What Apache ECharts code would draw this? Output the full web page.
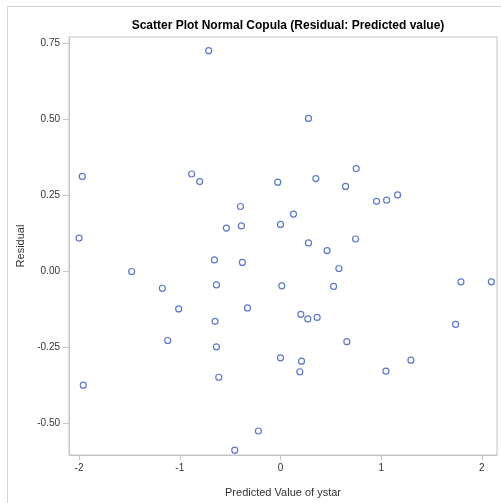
<!DOCTYPE html>
<html><head><meta charset="utf-8">
<script src="https://cdn.jsdelivr.net/npm/echarts@6/dist/echarts.min.js"></script>
<style>html,body{margin:0;padding:0;background:#fff}#c{width:501px;height:503px}</style>
</head><body><div id="c"></div>
<script>
const predicted = [-0.713,-1.968,-0.882,-0.802,-0.027,-0.398,-0.537,-0.388,0.0,-2.0,
  0.278,0.752,0.351,0.646,0.954,1.054,1.163,0.129,0.278,0.746,
  -0.656,-0.378,-1.478,-1.173,-0.636,0.013,-1.011,-0.328,-0.650,-1.120,
  -0.636,0.0,-1.958,-0.613,-0.219,-0.454,0.463,0.580,0.527,1.792,
  2.094,0.202,0.271,0.364,1.739,0.659,0.209,1.295,0.192,1.047];
const residual = [0.726,0.312,0.320,0.295,0.293,0.213,0.142,0.149,0.154,0.109,
  0.503,0.338,0.305,0.279,0.230,0.234,0.251,0.188,0.093,0.106,
  0.037,0.029,-0.001,-0.056,-0.045,-0.048,-0.124,-0.121,-0.165,-0.228,
  -0.249,-0.285,-0.375,-0.349,-0.526,-0.589,0.068,0.009,-0.050,-0.035,
  -0.035,-0.142,-0.157,-0.152,-0.175,-0.232,-0.296,-0.293,-0.331,-0.329];
const xTicks = [-2,-1,0,1,2];
const yTicks = [-0.5,-0.25,0,0.25,0.5,0.75];

const chart = echarts.init(document.getElementById('c'));
const font = 'Liberation Sans, Arial, sans-serif';
chart.setOption({
  animation: false,
  backgroundColor: '#fff',
  title: {
    text: 'Scatter Plot Normal Copula (Residual: Predicted value)',
    left: 283, top: 15, textAlign: 'center',
    textStyle: {fontFamily: font, fontSize: 12, fontWeight: 'bold', color: '#000'}
  },
  graphic: [
    {type: 'line', shape: {x1: 7.5, y1: 6.5, x2: 7.5, y2: 503}, style: {stroke: '#d4d4d4', lineWidth: 1}, silent: true},
    {type: 'line', shape: {x1: 7.5, y1: 6.5, x2: 501, y2: 6.5}, style: {stroke: '#d4d4d4', lineWidth: 1}, silent: true}
  ],
  grid: {left: 69, top: 37, right: 4, bottom: 46, show: true, borderColor: '#c4c4c4', borderWidth: 1},
  xAxis: {
    type: 'value', min: -2.1, max: 2.15,
    name: 'Predicted Value of ystar', nameLocation: 'middle', nameGap: 32,
    nameTextStyle: {fontFamily: font, fontSize: 11, color: '#333'},
    splitLine: {show: false},
    axisLine: {show: true, onZero: false, lineStyle: {color: '#c4c4c4'}},
    axisTick: {show: true, inside: false, length: 5, customValues: xTicks, lineStyle: {color: '#c4c4c4'}},
    axisLabel: {customValues: xTicks, margin: 8, fontFamily: font, fontSize: 10, color: '#333', formatter: v => String(v)}
  },
  yAxis: {
    type: 'value', min: -0.605, max: 0.771,
    name: 'Residual', nameLocation: 'middle', nameGap: 43,
    nameTextStyle: {fontFamily: font, fontSize: 11, color: '#333'},
    splitLine: {show: false},
    axisLine: {show: true, onZero: false, lineStyle: {color: '#c4c4c4'}},
    axisTick: {show: true, inside: false, length: 6, customValues: yTicks, lineStyle: {color: '#c4c4c4'}},
    axisLabel: {customValues: yTicks, margin: 9, fontFamily: font, fontSize: 10, color: '#333', formatter: v => v.toFixed(2)}
  },
  series: [{
    type: 'scatter',
    data: predicted.map((x, i) => [x, residual[i]]),
    symbol: 'circle', symbolSize: 6,
    itemStyle: {color: '#fff', borderColor: '#3558b8', borderWidth: 1.2}
  }]
});
</script></body></html>
